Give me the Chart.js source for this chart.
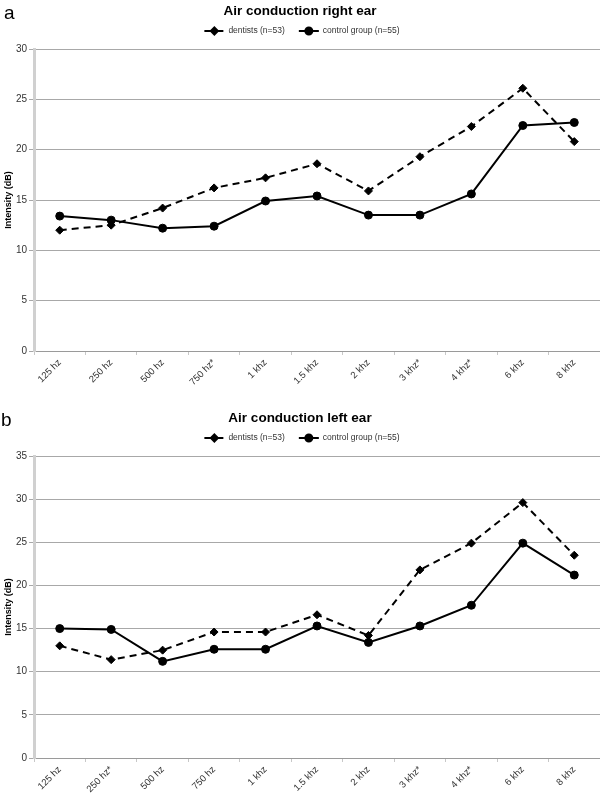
<!DOCTYPE html>
<html lang="en">
<head>
    <meta charset="UTF-8">
    <title>Air conduction</title>
    <script src="https://cdn.jsdelivr.net/npm/chart.js"></script>
    <style>
        body {
            margin: 0;
            background: #fff;
            font-family: "Liberation Sans", Arial, sans-serif;
        }
        .panel {
            position: absolute;
            left: 0;
            width: 600px;
        }
        #panelA { top: 0; height: 400px; }
        #panelB { top: 407px; height: 387px; }
    </style>
</head>
<body>
<div class="panel" id="panelA"><canvas id="chartA"></canvas></div>
<div class="panel" id="panelB"><canvas id="chartB"></canvas></div>

<script>
// categories (asterisks differ between ears)
const freqRight = ['125 hz', '250 hz', '500 hz', '750 hz*', '1 khz', '1.5 khz', '2 khz', '3 khz*', '4 khz*', '6 khz', '8 khz'];
const freqLeft  = ['125 hz', '250 hz*', '500 hz', '750 hz', '1 khz', '1.5 khz', '2 khz', '3 khz*', '4 khz*', '6 khz', '8 khz'];

// intensity in dB
const dentistsRight = [12.0, 12.5, 14.2, 16.2, 17.2, 18.6, 15.9, 19.3, 22.3, 26.1, 20.8];
const controlRight  = [13.4, 13.0, 12.2, 12.4, 14.9, 15.4, 13.5, 13.5, 15.6, 22.4, 22.7];
const dentistsLeft  = [13.0, 11.4, 12.5, 14.6, 14.6, 16.6, 14.2, 21.8, 24.9, 29.6, 23.5];
const controlLeft   = [15.0, 14.9, 11.2, 12.6, 12.6, 15.3, 13.4, 15.3, 17.7, 24.9, 21.2];

const yMaxRight = 30;
const yMaxLeft = 35;

const FONT = '"Liberation Sans", Arial, sans-serif';

// draws panel letter, title and a line+marker legend above the plot
const headerPlugin = {
    id: 'header',
    afterDraw(chart, args, opts) {
        const ctx = chart.ctx;
        const cx = chart.width / 2;
        ctx.save();
        ctx.fillStyle = '#000';
        ctx.textBaseline = 'alphabetic';
        ctx.textAlign = 'left';
        ctx.font = '19px ' + FONT;
        ctx.fillText(opts.letter, opts.letterX, 19);

        ctx.textAlign = 'center';
        ctx.font = 'bold 13.5px ' + FONT;
        ctx.fillText(opts.title, cx, 15);

        // legend
        ctx.font = '8.5px ' + FONT;
        const sample = 20, gap = 4, itemGap = 14;
        const items = chart.data.datasets.map(ds => ({ds, w: sample + gap + ctx.measureText(ds.label).width}));
        const total = items.reduce((s, it) => s + it.w, 0) + itemGap * (items.length - 1);
        let x = cx - total / 2 + 2;
        const y = 31;
        items.forEach(it => {
            const ds = it.ds;
            ctx.strokeStyle = ds.borderColor;
            ctx.lineWidth = ds.borderWidth;
            ctx.setLineDash(ds.borderDash || []);
            ctx.beginPath();
            ctx.moveTo(x, y);
            ctx.lineTo(x + sample, y);
            ctx.stroke();
            ctx.setLineDash([]);
            ctx.fillStyle = '#000';
            Chart.helpers.drawPoint(ctx, {
                pointStyle: ds.pointStyle,
                radius: ds.pointRadius - 0.5,
                borderWidth: 1,
                rotation: 0
            }, x + sample / 2, y);
            ctx.fillStyle = '#333';
            ctx.textAlign = 'left';
            ctx.textBaseline = 'middle';
            ctx.fillText(ds.label, x + sample + gap, y);
            x += it.w + itemGap;
        });
        ctx.restore();
    }
};

function makeChart(id, labels, dentists, control, yMax, letter, letterX, title, xAxisHeight) {
    return new Chart(document.getElementById(id), {
        type: 'line',
        data: {
            labels: labels,
            datasets: [{
                label: 'dentists (n=53)',
                data: dentists,
                borderColor: '#000',
                backgroundColor: '#000',
                borderWidth: 2,
                borderDash: [7, 5],
                pointStyle: 'rectRot',
                pointRadius: 4,
                pointBorderWidth: 1,
                tension: 0
            }, {
                label: 'control group (n=55)',
                data: control,
                borderColor: '#000',
                backgroundColor: '#000',
                borderWidth: 2,
                pointStyle: 'circle',
                pointRadius: 4,
                pointBorderWidth: 1,
                tension: 0
            }]
        },
        options: {
            responsive: true,
            maintainAspectRatio: false,
            animation: false,
            layout: {
                autoPadding: false,
                padding: { top: 49, left: 0, right: 0, bottom: 0 }
            },
            plugins: {
                legend: { display: false },
                title: { display: false },
                tooltip: { enabled: false },
                header: { letter: letter, letterX: letterX, title: title }
            },
            scales: {
                x: {
                    offset: true,
                    grid: {
                        offset: true,
                        drawOnChartArea: false,
                        drawTicks: true,
                        tickLength: 4,
                        color: '#c8c8c8'
                    },
                    border: { color: '#9a9a9a', width: 1 },
                    ticks: {
                        minRotation: 45,
                        maxRotation: 45,
                        autoSkip: false,
                        padding: 2,
                        color: '#333',
                        font: { family: FONT, size: 9.5 }
                    },
                    afterFit: s => {
                        s.height = xAxisHeight;
                        s.paddingLeft = 0;
                        s.paddingRight = 0;
                    }
                },
                y: {
                    min: 0,
                    max: yMax,
                    ticks: {
                        stepSize: 5,
                        padding: 2,
                        color: '#333',
                        font: { family: FONT, size: 10 }
                    },
                    grid: {
                        color: '#a8a8a8',
                        lineWidth: 1,
                        tickLength: 5
                    },
                    border: { color: '#d0d0d0', width: 3 },
                    title: {
                        display: true,
                        text: 'Intensity (dB)',
                        color: '#000',
                        padding: { top: 3, bottom: 0 },
                        font: { family: FONT, size: 9, weight: 'bold' }
                    },
                    afterFit: s => { s.width = 34; }
                }
            }
        },
        plugins: [headerPlugin]
    });
}

makeChart('chartA', freqRight, dentistsRight, controlRight, yMaxRight, 'a', 4, 'Air conduction right ear', 49);
makeChart('chartB', freqLeft, dentistsLeft, controlLeft, yMaxLeft, 'b', 1, 'Air conduction left ear', 36);
</script>
</body>
</html>
